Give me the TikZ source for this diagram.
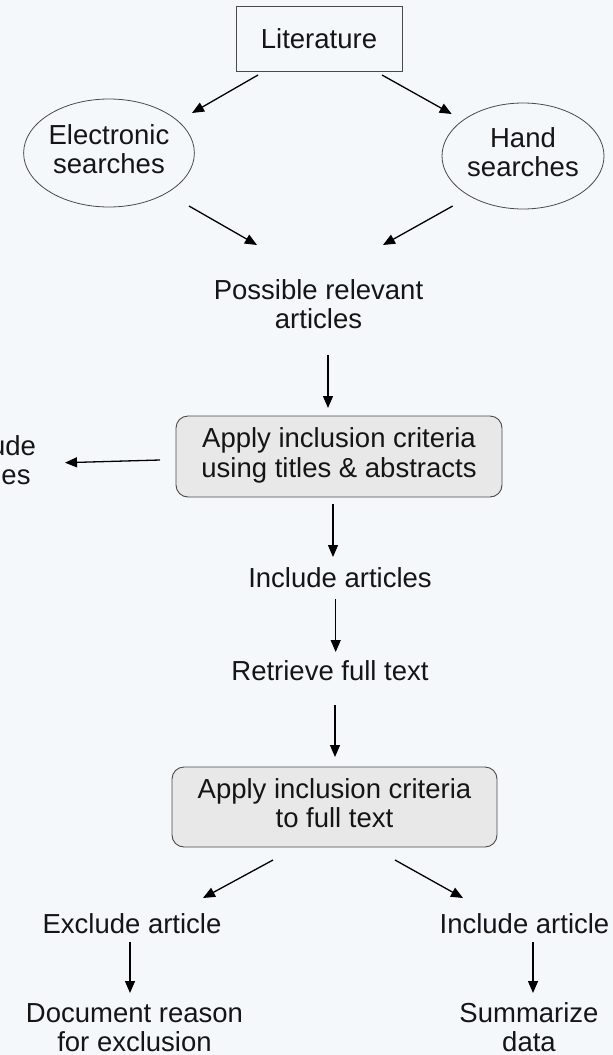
\documentclass[tikz,border=0pt]{standalone}
\usepackage{fontspec}
\setmainfont{Liberation Sans}
\usetikzlibrary{arrows.meta,shapes.geometric}
\definecolor{bgc}{HTML}{F4F8FB}
\definecolor{boxfill}{HTML}{E8E8E8}
\definecolor{edge}{HTML}{4A4A4A}
\definecolor{txt}{HTML}{151515}
\newcommand\mltext[1]{\begin{tabular}[t]{@{}c@{}}#1\end{tabular}}
\tikzset{
  every node/.style={font=\fontsize{27.5}{29.5}\selectfont, text=txt, inner sep=0pt},
  litbox/.style={draw=edge, line width=0.9pt, rectangle, minimum width=166pt, minimum height=65pt},
  oval/.style={draw=edge, line width=0.8pt, ellipse},
  critbox/.style={draw=edge, line width=0.9pt, fill=boxfill, rounded corners=12pt, rectangle},
  plain/.style={anchor=base},
  arr/.style={line width=1.3pt, draw=black, -{Triangle[length=12pt,width=10pt]}}
}
\begin{document}
\begin{tikzpicture}[x=1pt,y=-1pt]
\fill[bgc] (0,0) rectangle (613,1055);
\useasboundingbox (0,0) rectangle (613,1055);

\node[litbox] (lit) at (319,38.5) {Literature};
\node[oval, minimum width=164pt, minimum height=108pt] (elec) at (109,153) {\mltext{Electronic\\searches}};
\node[oval, minimum width=162pt, minimum height=106pt] (hand) at (523,156) {\mltext{Hand\\searches}};
\node[plain] (poss) at (318.5,299) {\mltext{Possible relevant\\articles}};
\node[critbox, minimum width=326pt, minimum height=81pt] (b1) at (339,456.5) {\mltext{Apply inclusion criteria\\using titles \& abstracts}};
\node[plain] (excl) at (-13,455) {\mltext{Exclude\\articles}};
\node[plain] (inc) at (340,587) {Include articles};
\node[plain] (ret) at (330,680) {Retrieve full text};
\node[critbox, minimum width=325pt, minimum height=80pt] (b2) at (334.5,807) {\mltext{Apply inclusion criteria\\to full text}};
\node[plain] (exa) at (132,933) {Exclude article};
\node[plain] (ina) at (524.5,933) {Include article};
\node[plain] (doc) at (134.5,1022) {\mltext{Document reason\\for exclusion}};
\node[plain] (sum) at (529,1022) {\mltext{Summarize\\data}};

\draw[arr] ([shift={(-61,36.5)}]lit.center) -- ([shift={(83,-40)}]elec.center);
\draw[arr] ([shift={(63,36.5)}]lit.center) -- ([shift={(-71.3,-42)}]hand.center);
\draw[arr] ([shift={(80,53)}]elec.center) -- ([shift={(-61.5,-54)}]poss.base);
\draw[arr] ([shift={(-70.3,50)}]hand.center) -- ([shift={(64.5,-54)}]poss.base);
\draw[arr] ([shift={(9.5,56)}]poss.base) -- ([shift={(-11,-48.5)}]b1.center);
\draw[arr] ([shift={(-179,3.5)}]b1.center) -- ([shift={(78,7.7)}]excl.base);
\draw[arr] ([shift={(-6,47.5)}]b1.center) -- ([shift={(-7,-30)}]inc.base);
\draw[arr] ([shift={(-4.3,12)}]inc.base) -- ([shift={(5.7,-28)}]ret.base);
\draw[arr] ([shift={(5,25)}]ret.base) -- ([shift={(0.5,-50)}]b2.center);
\draw[arr] ([shift={(-61.5,53)}]b2.center) -- ([shift={(71,-35)}]exa.base);
\draw[arr] ([shift={(60.5,53)}]b2.center) -- ([shift={(-61.5,-35)}]ina.base);
\draw[arr] ([shift={(-2,9)}]exa.base) -- ([shift={(-4.5,-29)}]doc.base);
\draw[arr] ([shift={(8.5,9)}]ina.base) -- ([shift={(4,-29)}]sum.base);
\end{tikzpicture}
\end{document}
